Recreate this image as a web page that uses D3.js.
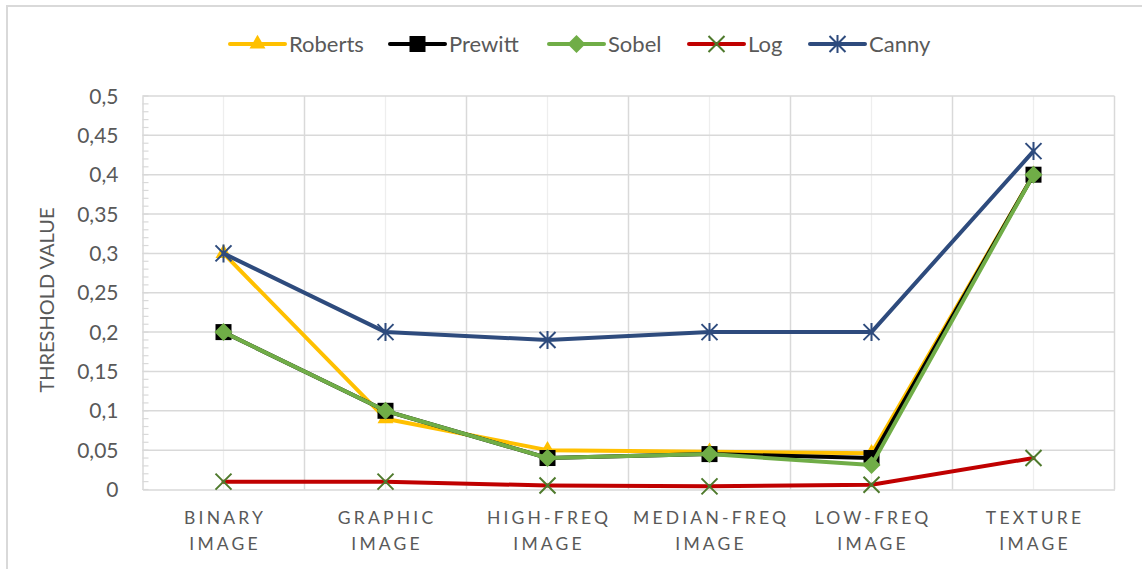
<!DOCTYPE html>
<html>
<head>
<meta charset="utf-8">
<script src="https://cdn.jsdelivr.net/npm/d3@7"></script>
<style>
  html, body { margin: 0; padding: 0; background: #fff; }
  svg { display: block; font-family: Lato, "Open Sans", sans-serif; }
</style>
</head>
<body>
<svg id="chart" width="1142" height="569"></svg>
<script>
// Threshold values per edge detector for each image category
const categories = ["BINARY IMAGE", "GRAPHIC IMAGE", "HIGH-FREQ IMAGE", "MEDIAN-FREQ IMAGE", "LOW-FREQ IMAGE", "TEXTURE IMAGE"];
const roberts = [0.30, 0.09, 0.05, 0.048, 0.046, 0.40];
const prewitt = [0.20, 0.10, 0.04, 0.045, 0.040, 0.40];
const sobel   = [0.20, 0.10, 0.04, 0.045, 0.031, 0.40];
const logOp   = [0.010, 0.010, 0.005, 0.004, 0.006, 0.040];
const canny   = [0.30, 0.20, 0.19, 0.20, 0.20, 0.43];
const yTicks  = [0, 0.05, 0.1, 0.15, 0.2, 0.25, 0.3, 0.35, 0.4, 0.45, 0.5];
const seriesNames = ["Roberts", "Prewitt", "Sobel", "Log", "Canny"];

const series = [
  { name: seriesNames[0], values: roberts, color: "#ffc000", marker: "triangle", mcolor: "#ffc000" },
  { name: seriesNames[1], values: prewitt, color: "#000000", marker: "square",   mcolor: "#000000" },
  { name: seriesNames[2], values: sobel,   color: "#70ad47", marker: "diamond",  mcolor: "#70ad47" },
  { name: seriesNames[3], values: logOp,   color: "#c00000", marker: "x",        mcolor: "#4e7a2c" },
  { name: seriesNames[4], values: canny,   color: "#2e4b7d", marker: "star",     mcolor: "#2e4b7d" }
];

const svg = d3.select("#chart");
const plot = { left: 142.5, right: 1114.5, top: 96, bottom: 489.5 };
const textColor = "#595959";
const gridColor = "#d9d9d9";

// Chart area frame
svg.append("rect")
  .attr("x", 7).attr("y", 6).attr("width", 1160).attr("height", 600)
  .attr("fill", "#fff").attr("stroke", gridColor).attr("stroke-width", 2);

const x = d3.scaleBand().domain(categories).range([plot.left, plot.right]).padding(0);
const xc = c => x(c) + x.bandwidth() / 2;
const y = d3.scaleLinear().domain([0, 0.5]).range([plot.bottom, plot.top]);

const locale = d3.formatLocale({ decimal: ",", thousands: ".", grouping: [3], currency: ["", "€"] });
const fmt = locale.format(".2~f");

// Minor vertical gridlines at category centres
svg.append("g").selectAll("line").data(categories).join("line")
  .attr("x1", d => xc(d)).attr("x2", d => xc(d))
  .attr("y1", plot.top).attr("y2", plot.bottom)
  .attr("stroke", "#eeeeee").attr("stroke-width", 1.3);

// Major vertical gridlines at category boundaries
const bounds = categories.map(c => x(c)).concat([x(categories[categories.length - 1]) + x.bandwidth()]);
svg.append("g").selectAll("line").data(bounds.slice(1)).join("line")
  .attr("x1", d => d).attr("x2", d => d)
  .attr("y1", plot.top).attr("y2", plot.bottom)
  .attr("stroke", gridColor).attr("stroke-width", 1.5);

// Horizontal gridlines
svg.append("g").selectAll("line").data(yTicks.slice(1)).join("line")
  .attr("x1", plot.left).attr("x2", plot.right)
  .attr("y1", d => y(d)).attr("y2", d => y(d))
  .attr("stroke", gridColor).attr("stroke-width", 1.5);

// Y axis with minor ticks every 0.01
const yAxis = svg.append("g").attr("transform", `translate(${plot.left},0)`)
  .call(d3.axisLeft(y).tickValues(yTicks).tickFormat(fmt).tickSize(0).tickPadding(24));
yAxis.select(".domain").attr("stroke", gridColor).attr("stroke-width", 1.5);
yAxis.selectAll("text").attr("fill", textColor).style("font-size", "21px")
  .style("font-family", "Lato, sans-serif").attr("dy", "0.34em");

const minor = d3.range(0, 51).map(i => i / 100);
svg.append("g").selectAll("line").data(minor).join("line")
  .attr("x1", plot.left).attr("x2", plot.left + 6)
  .attr("y1", d => y(d)).attr("y2", d => y(d))
  .attr("stroke", gridColor).attr("stroke-width", 1.2);

// X axis
const xAxis = svg.append("g").attr("transform", `translate(0,${plot.bottom})`)
  .call(d3.axisBottom(x).tickSize(0).tickFormat(""));
xAxis.select(".domain").attr("stroke", gridColor).attr("stroke-width", 1.5);

const catLabels = svg.append("g").selectAll("text").data(categories).join("text")
  .attr("x", d => xc(d)).attr("y", 524)
  .attr("text-anchor", "middle").attr("fill", textColor)
  .style("font-size", "17.5px").style("letter-spacing", "3.2px");
catLabels.each(function(d) {
  const i = d.lastIndexOf(" ");
  const lines = [d.slice(0, i), d.slice(i + 1)];
  d3.select(this).selectAll("tspan").data(lines).join("tspan")
    .attr("x", xc(d) + 1.6).attr("dy", (l, k) => k === 0 ? 0 : 26).text(l => l);
});

// Y axis title
svg.append("text")
  .attr("transform", "translate(54,300) rotate(-90)")
  .attr("text-anchor", "middle").attr("fill", textColor)
  .style("font-size", "20px").text("THRESHOLD VALUE");

// Marker drawing
function drawMarker(g, type, color, cx, cy) {
  if (type === "triangle") {
    g.append("path").attr("d", d3.symbol(d3.symbolTriangle, 110)()).attr("transform", `translate(${cx},${cy})`).attr("fill", color);
  } else if (type === "square") {
    g.append("rect").attr("x", cx - 8).attr("y", cy - 8).attr("width", 16).attr("height", 16).attr("fill", color);
  } else if (type === "diamond") {
    g.append("path").attr("d", `M${cx},${cy - 9}L${cx + 9},${cy}L${cx},${cy + 9}L${cx - 9},${cy}Z`).attr("fill", color);
  } else if (type === "x") {
    const r = 8;
    g.append("path").attr("d", `M${cx - r},${cy - r}L${cx + r},${cy + r}M${cx - r},${cy + r}L${cx + r},${cy - r}`)
      .attr("stroke", color).attr("stroke-width", 2).attr("fill", "none");
  } else if (type === "star") {
    const r = 8;
    g.append("path").attr("d", `M${cx - r},${cy - r}L${cx + r},${cy + r}M${cx - r},${cy + r}L${cx + r},${cy - r}M${cx},${cy - r - 1}L${cx},${cy + r + 1}`)
      .attr("stroke", color).attr("stroke-width", 2).attr("fill", "none");
  }
}

const line = d3.line().x(d => xc(d.c)).y(d => y(d.v));

series.forEach(s => {
  const pts = s.values.map((v, i) => ({ c: categories[i], v }));
  const g = svg.append("g");
  g.append("path").datum(pts).attr("d", line)
    .attr("fill", "none").attr("stroke", s.color).attr("stroke-width", 4)
    .attr("stroke-linejoin", "round").attr("stroke-linecap", "round");
  pts.forEach(p => drawMarker(g, s.marker, s.mcolor, xc(p.c), y(p.v)));
});

// Legend
const legendX = [230, 390, 549, 689, 810];
const legend = svg.append("g");
series.forEach((s, i) => {
  const lx = legendX[i];
  const g = legend.append("g");
  g.append("line").attr("x1", lx).attr("x2", lx + 55).attr("y1", 44).attr("y2", 44)
    .attr("stroke", s.color).attr("stroke-width", 4).attr("stroke-linecap", "round");
  drawMarker(g, s.marker, s.mcolor, lx + 27.5, 44);
  g.append("text").attr("x", lx + 59).attr("y", 44).attr("dy", "0.35em")
    .attr("fill", textColor).style("font-size", "22px").text(s.name);
});
</script>
</body>
</html>
